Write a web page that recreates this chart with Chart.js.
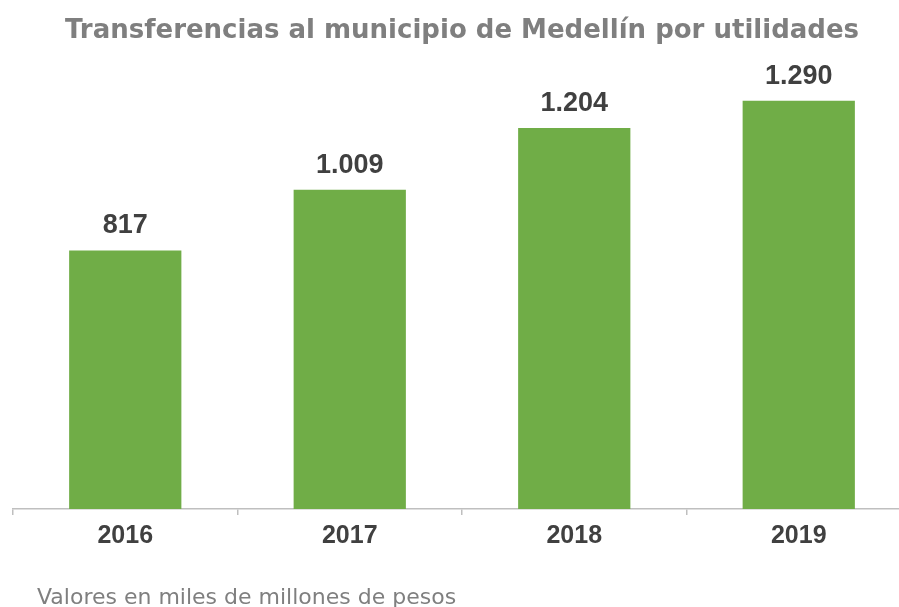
<!DOCTYPE html>
<html>
<head>
<meta charset="utf-8">
<script src="https://cdn.jsdelivr.net/npm/chart.js@4.4.1/dist/chart.umd.min.js"></script>
<style>
    html, body {
        margin: 0;
        padding: 0;
        background: #ffffff;
        overflow: hidden;
    }
    #wrap {
        width: 899px;
        height: 607px;
        overflow: hidden;
    }
</style>
</head>
<body>
<div id="wrap">
    <canvas id="transferChart" width="925" height="607"></canvas>
</div>
<script>
const years = ["2016", "2017", "2018", "2019"];
const transfers = [817, 1009, 1204, 1290];
const valueLabels = ["817", "1.009", "1.204", "1.290"];

const titleText = "Transferencias al municipio de Medellín por utilidades";
const footerText = "Valores en miles de millones de pesos";

const labelPlugin = {
    id: "labelPlugin",
    afterDatasetsDraw(chart) {
        const ctx = chart.ctx;
        const meta = chart.getDatasetMeta(0);

        ctx.save();
        ctx.fillStyle = "#404040";
        ctx.font = "bold 27px 'Liberation Sans', Arial, sans-serif";
        ctx.textAlign = "center";
        ctx.textBaseline = "alphabetic";
        meta.data.forEach((bar, index) => {
            ctx.fillText(valueLabels[index], bar.x, bar.y - 17);
        });

        ctx.fillStyle = "#7f7f7f";
        ctx.font = "22px 'DejaVu Sans', sans-serif";
        ctx.textAlign = "left";
        ctx.fillText(footerText, 37, 604);
        ctx.restore();
    },
};

new Chart(document.getElementById("transferChart"), {
    type: "bar",
    data: {
        labels: years,
        datasets: [
            {
                data: transfers,
                backgroundColor: "#70ad47",
                categoryPercentage: 1,
                barPercentage: 0.5,
            },
        ],
    },
    options: {
        responsive: false,
        animation: false,
        layout: {
            padding: { left: 13, right: 14, top: 0, bottom: 50 },
        },
        plugins: {
            legend: { display: false },
            tooltip: { enabled: false },
            title: {
                display: true,
                text: titleText,
                color: "#7f7f7f",
                font: { family: "'DejaVu Sans', sans-serif", size: 26, weight: "bold" },
                padding: { top: 16, bottom: 22 },
            },
        },
        scales: {
            x: {
                grid: {
                    display: true,
                    drawOnChartArea: false,
                    offset: true,
                    tickLength: 6,
                    color: "#bfbfbf",
                    lineWidth: 1.5,
                },
                border: { display: true, color: "#bfbfbf", width: 1.5 },
                ticks: {
                    color: "#404040",
                    padding: 6,
                    font: { family: "'Liberation Sans', Arial, sans-serif", size: 25, weight: "bold" },
                },
            },
            y: {
                display: false,
                min: 0,
                max: 1390,
            },
        },
    },
    plugins: [labelPlugin],
});
</script>
</body>
</html>
